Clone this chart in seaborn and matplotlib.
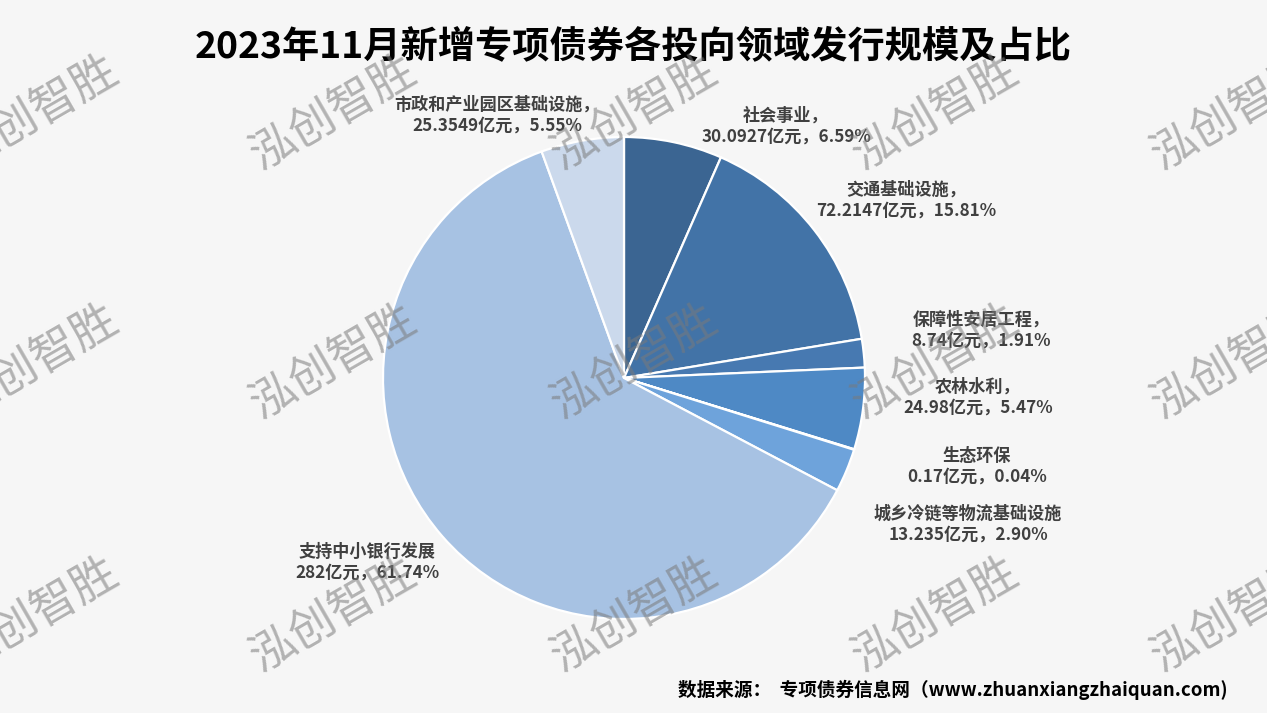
import matplotlib
matplotlib.use("Agg")
import matplotlib.pyplot as plt
import seaborn as sns

# data (clockwise from 12 o'clock)
categories = ["社会事业", "交通基础设施", "保障性安居工程", "农林水利",
              "生态环保", "城乡冷链等物流基础设施", "支持中小银行发展",
              "市政和产业园区基础设施"]
amounts = [30.0927, 72.2147, 8.74, 24.98, 0.17, 13.235, 282, 25.3549]
shares = [6.59, 15.81, 1.91, 5.47, 0.04, 2.90, 61.74, 5.55]
with_comma = [True, True, True, True, False, False, False, True]

slice_colors = ["#3B6592", "#4273A7", "#4779B1", "#4E89C5",
                "#5B95D0", "#6EA3DB", "#A7C2E3", "#CBD9EC"]

title = "2023年11月新增专项债券各投向领域发行规模及占比"
source = "数据来源：  专项债券信息网（www.zhuanxiangzhaiquan.com)"
watermark = "泓创智胜"

W, H = 1267, 713
BG = "#F6F6F6"

sns.set_theme(style="white")
plt.rcParams["font.family"] = ["Noto Sans CJK SC", "DejaVu Sans"]

fig = plt.figure(figsize=(W / 100, H / 100), dpi=100, facecolor=BG)

# pie: centre (624, 378) px, radius 241 px
cx, cy, r = 624, 378, 241
ax = fig.add_axes([(cx - r) / W, (H - cy - r) / H, 2 * r / W, 2 * r / H])
ax.set_facecolor(BG)
ax.pie(amounts, colors=sns.color_palette(slice_colors), startangle=90,
       counterclock=False,
       wedgeprops=dict(edgecolor="white", linewidth=1.6))
ax.set_xlim(-1.0, 1.0)
ax.set_ylim(-1.0, 1.0)
ax.set_aspect("equal")
ax.axis("off")

# data labels (pixel positions of each label block centre)
label_pos = [(786, 126), (906, 200), (981, 330), (978, 397),
             (977, 466), (968, 524), (367, 562), (497, 115)]
for name, amt, pct, comma, (lx, ly) in zip(categories, amounts, shares,
                                           with_comma, label_pos):
    txt = f"{name}{'，' if comma else ''}\n{amt:g}亿元，{pct:.2f}%"
    fig.text(lx / W, 1 - ly / H, txt, ha="center", va="center",
             multialignment="center", fontsize=12.3, fontweight="bold",
             color="#404040", linespacing=1.2)

fig.text(633 / W, 1 - 47 / H, title, ha="center", va="center",
         fontsize=26.8, fontweight="bold", color="black")
fig.text(1228 / W, 1 - 690 / H, source, ha="right", va="center",
         fontsize=13.4, fontweight="bold", color="black")

# watermark grid
for wy in [113, 362, 615]:
    for wx in [35, 333, 634, 935, 1234]:
        fig.text(wx / W, 1 - wy / H, watermark, ha="center", va="center",
                 rotation=30, rotation_mode="anchor", fontsize=33,
                 fontweight="light", color="#7A7A7A", alpha=0.55, zorder=10)

fig.savefig("out.png", dpi=100, facecolor=BG)
